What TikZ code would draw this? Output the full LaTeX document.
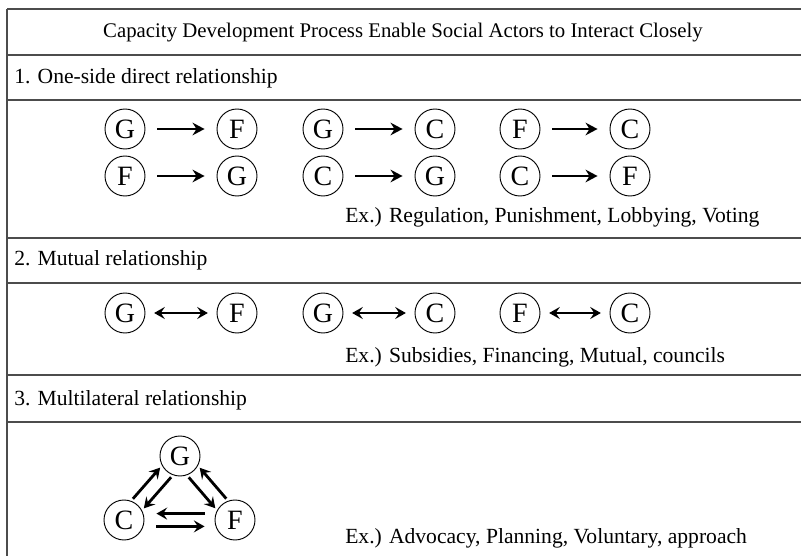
\documentclass[tikz,border=0pt]{standalone}
\usepackage{fontspec}
\setmainfont{Liberation Serif}
\usetikzlibrary{arrows.meta}

\begin{document}
\begin{tikzpicture}[x=0.75pt,y=-0.75pt,
	actor/.style={circle,draw,line width=0.7pt,minimum size=30pt,inner sep=0pt,
		font=\fontsize{21}{21}\selectfont},
	rel/.style={line width=2.1pt,-{Stealth[length=9pt,width=9.5pt,inset=3pt]},
		shorten <=9pt,shorten >=9pt},
	mutual/.style={line width=2.1pt,
		{Stealth[length=8pt,width=9pt,inset=3pt]}-{Stealth[length=8pt,width=9pt,inset=3pt]},
		shorten <=6.5pt,shorten >=6.5pt},
	multi/.style={line width=2.1pt,-{Stealth[length=8pt,width=9pt,inset=3pt]},
		shorten <=1pt,shorten >=1pt},
	frame/.style={draw=black!70,line width=0.8pt},
	txt/.style={font=\fontsize{16.2}{19}\selectfont,inner sep=0pt}]
	\useasboundingbox (0,0) rectangle (801,556);

	% table lines
	\foreach \yy in {9,55,100,238,283,375,422}{
			\draw[frame] (7,\yy) -- (801,\yy);
		}
	\draw[frame] (7,9) -- (7,556);

	% texts
	\node[txt,font=\fontsize{15.6}{19}\selectfont] (title) at (403,33) {Capacity Development Process Enable Social Actors to Interact Closely};
	\node[txt,anchor=west] (sec1) at (14,78) {1. One-side direct relationship};
	\node[txt,anchor=west] (sec2) at (14,260) {2. Mutual relationship};
	\node[txt,anchor=west] (sec3) at (14,400) {3. Multilateral relationship};
	\node[txt,anchor=west] (ex1) at (345,217) {Ex.) Regulation, Punishment, Lobbying, Voting};
	\node[txt,anchor=west] (ex2) at (345,357) {Ex.) Subsidies, Financing, Mutual, councils};
	\node[txt,anchor=west] (ex3) at (345,538) {Ex.) Advocacy, Planning, Voluntary, approach};

	% one-side relations
	\foreach \a/\b/\xa/\xb/\yy/\n in {G/F/125/237/129/a,G/C/323/435/129/b,F/C/520/630/129/c,
			F/G/125/237/176/d,C/G/323/435/176/e,C/F/520/630/176/f}{
			\node[actor] (\n1) at (\xa,\yy) {\a};
			\node[actor] (\n2) at (\xb,\yy) {\b};
			\draw[rel] (\n1) -- (\n2);
		}

	% mutual relations
	\foreach \a/\b/\xa/\xb/\n in {G/F/125/237/m,G/C/323/435/p,F/C/520/630/q}{
			\node[actor] (\n1) at (\xa,313) {\a};
			\node[actor] (\n2) at (\xb,313) {\b};
			\draw[mutual] (\n1) -- (\n2);
		}

	% multilateral
	\node[actor] (G) at (180,456) {G};
	\node[actor] (C) at (124,520) {C};
	\node[actor] (F) at (235,520) {F};
	\draw[multi,transform canvas={shift={(-4.1pt,3.6pt)}}] (C) -- (G);
	\draw[multi,transform canvas={shift={(4.1pt,-3.6pt)}}] (G) -- (C);
	\draw[multi,transform canvas={shift={(-4.1pt,-3.6pt)}}] (G) -- (F);
	\draw[multi,transform canvas={shift={(4.1pt,3.6pt)}}] (F) -- (G);
	\draw[multi,shorten <=7.5pt,shorten >=9pt,transform canvas={shift={(0,4.8pt)}}] (F) -- (C);
	\draw[multi,shorten <=9pt,shorten >=7.5pt,transform canvas={shift={(0,-4.8pt)}}] (C) -- (F);
\end{tikzpicture}
\end{document}
